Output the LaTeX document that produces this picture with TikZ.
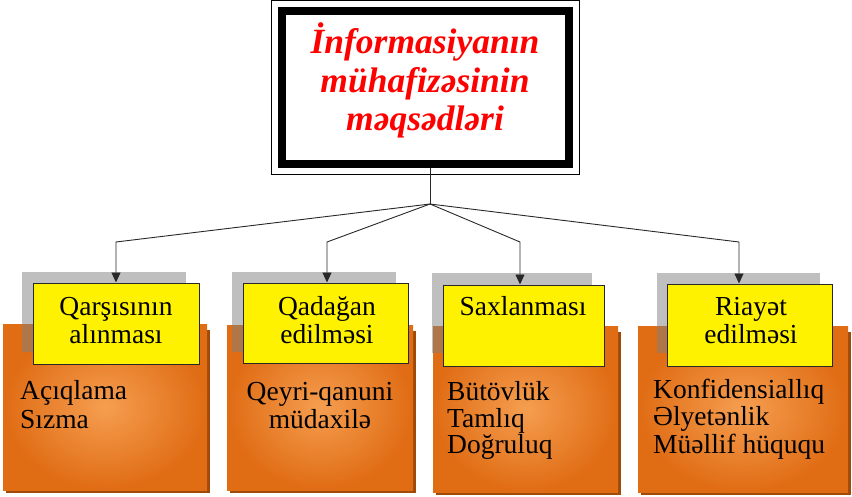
\documentclass[tikz,border=0pt]{standalone}
\usepackage{fontspec}
\setmainfont{Liberation Serif}
\usetikzlibrary{arrows.meta}

\definecolor{orangeedge}{RGB}{224,108,20}
\definecolor{orangemid}{RGB}{245,158,80}
\definecolor{orangedark}{RGB}{160,74,10}
\definecolor{linegray}{RGB}{40,40,40}

\tikzset{
  titletext/.style={text=red, font=\fontsize{35.5}{38}\selectfont\bfseries\itshape, inner sep=0pt, anchor=base},
  headtext/.style={font=\fontsize{27.5}{29}\selectfont, inner sep=0pt, anchor=base},
  bodytext/.style={font=\fontsize{27.5}{29}\selectfont, inner sep=0pt},
  headbox/.style={draw=linegray, line width=1pt, fill=yellow},
  panel/.style={inner color=orangemid, outer color=orangeedge},
  panelshadow/.style={fill=orangedark},
  headshadow/.style={fill=black!50, opacity=0.5},
  conn/.style={draw=linegray, line width=0.9pt, -{Triangle[width=9pt,length=10pt]}},
  branch/.style={draw=linegray, line width=0.9pt},
}

\begin{document}
\begin{tikzpicture}[x=1pt,y=-1pt]
\useasboundingbox (0,0) rectangle (852,496);

% title box: thick frame with a thin outer rule
\node[draw=black, line width=8pt, minimum width=287pt, minimum height=152.5pt, inner sep=0pt]
  (top) at (425,87.25) {};
\draw[black, line width=1pt] ([xshift=-6pt,yshift=7pt]top.north west) rectangle ([xshift=7pt,yshift=-7pt]top.south east);
\node[titletext] (t1) at (425,53) {İnformasiyanın};
\node[titletext] (t2) at (425,92) {mühafizəsinin};
\node[titletext] (t3) at (425,130) {məqsədləri};

% orange panels with drop shadow
\fill[panelshadow] (6,330) rectangle (210,493);
\path[panel] (3,324) rectangle (207,490);
\fill[panelshadow] (230,331) rectangle (416,493);
\path[panel] (227,325) rectangle (413,490);
\fill[panelshadow] (436,332) rectangle (621,495);
\path[panel] (433,326) rectangle (618,492);
\fill[panelshadow] (641,332) rectangle (851,495);
\path[panel] (638,326) rectangle (848,492);

% grey shadows of the headings
\fill[headshadow] (22,272) rectangle (186,352);
\fill[headshadow] (232,272) rectangle (396,352);
\fill[headshadow] (432,273) rectangle (592,353);
\fill[headshadow] (657,273) rectangle (820,353);

% yellow headings
\node[headbox, minimum width=166pt, minimum height=81pt, inner sep=0pt] (y1) at (116,323.5) {};
\node[headbox, minimum width=165pt, minimum height=80pt, inner sep=0pt] (y2) at (325.5,323) {};
\node[headbox, minimum width=161pt, minimum height=81pt, inner sep=0pt] (y3) at (523.5,325.5) {};
\node[headbox, minimum width=165pt, minimum height=82pt, inner sep=0pt] (y4) at (749.5,325) {};

\node[headtext] (h1a) at (116,315) {Qarşısının};
\node[headtext] (h1b) at (116,343) {alınması};
\node[headtext] (h2a) at (327,315) {Qadağan};
\node[headtext] (h2b) at (327,343) {edilməsi};
\node[headtext] (h3a) at (523,315) {Saxlanması};
\node[headtext] (h4a) at (751,315) {Riayət};
\node[headtext] (h4b) at (751,343) {edilməsi};

% panel contents
\node[bodytext, anchor=base west] (b1a) at (20,399) {Açıqlama};
\node[bodytext, anchor=base west] (b1b) at (20,428) {Sızma};
\node[bodytext, anchor=base] (b2a) at (320,400) {Qeyri-qanuni};
\node[bodytext, anchor=base] (b2b) at (320,428) {müdaxilə};
\node[bodytext, anchor=base west] (b3a) at (447,400) {Bütövlük};
\node[bodytext, anchor=base west] (b3b) at (447,427) {Tamlıq};
\node[bodytext, anchor=base west] (b3c) at (447,453) {Doğruluq};
\node[bodytext, anchor=base west] (b4a) at (653,398) {Konfidensiallıq};
\node[bodytext, anchor=base west] (b4b) at (653,425) {Əlyetənlik};
\node[bodytext, anchor=base west] (b4c) at (653,453) {Müəllif hüququ};

% connectors
\coordinate (j) at (430,204);
\coordinate (e1) at (116,242);
\coordinate (e2) at (327,242);
\coordinate (e3) at (520,242);
\coordinate (e4) at (739,242);
\draw[branch] (j |- top.south) -- (j);
\draw[conn] (j) -- (e1) -- (e1 |- y1.north);
\draw[conn] (j) -- (e2) -- (e2 |- y2.north);
\draw[conn] (j) -- (e3) -- (e3 |- y3.north);
\draw[conn] (j) -- (e4) -- (e4 |- y4.north);
\end{tikzpicture}
\end{document}
